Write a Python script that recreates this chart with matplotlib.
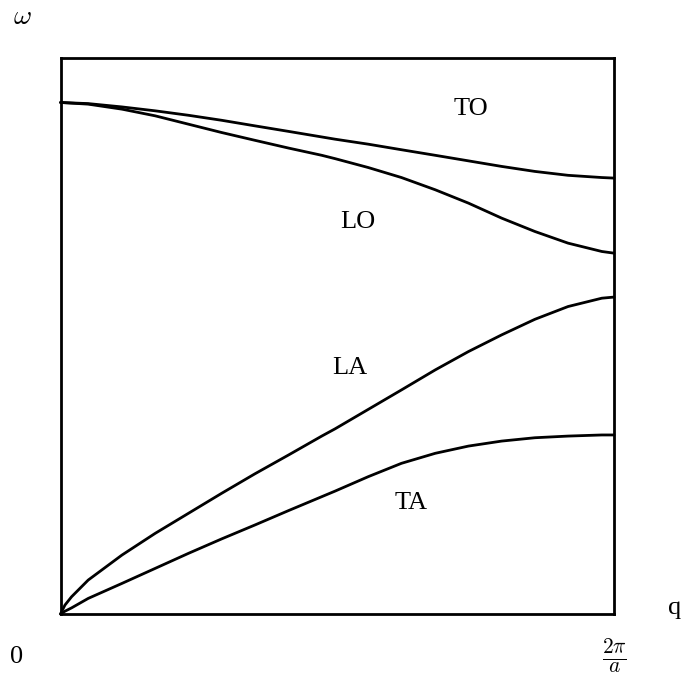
import matplotlib
matplotlib.use("Agg")
import matplotlib.pyplot as plt

plt.rcParams['mathtext.fontset'] = 'cm'
plt.rcParams['font.family'] = ['Liberation Serif', 'DejaVu Serif']

# optical branches (wave vector as fraction of 2*pi/a, frequency normalised)
q_opt = [0.0, 0.05, 0.111, 0.171, 0.231, 0.291, 0.351, 0.412, 0.472, 0.496,
         0.556, 0.616, 0.677, 0.737, 0.797, 0.857, 0.917, 0.978, 1.0]
to_vals = [0.920, 0.918, 0.912, 0.905, 0.897, 0.888, 0.878, 0.868, 0.858, 0.854,
           0.845, 0.835, 0.825, 0.815, 0.805, 0.796, 0.789, 0.785, 0.784]
lo_vals = [0.920, 0.917, 0.908, 0.896, 0.881, 0.866, 0.852, 0.838, 0.825, 0.819,
           0.803, 0.785, 0.763, 0.739, 0.712, 0.688, 0.667, 0.652, 0.649]

# acoustic branches
q_ac = [0.0, 0.008, 0.02, 0.05, 0.111, 0.171, 0.231, 0.291, 0.351, 0.412, 0.472, 0.496,
        0.556, 0.616, 0.677, 0.737, 0.797, 0.857, 0.917, 0.978, 1.0]
la_vals = [0.0, 0.016, 0.031, 0.061, 0.106, 0.145, 0.181, 0.217, 0.252, 0.286, 0.320, 0.333,
           0.368, 0.403, 0.439, 0.472, 0.502, 0.530, 0.553, 0.568, 0.570]
ta_vals = [0.0, 0.005, 0.011, 0.028, 0.055, 0.082, 0.109, 0.135, 0.160, 0.186, 0.211, 0.221,
           0.247, 0.271, 0.289, 0.302, 0.311, 0.317, 0.320, 0.322, 0.322]

branch_labels = ["TO", "LO", "LA", "TA"]
label_pos = [(0.741, 0.908), (0.537, 0.705), (0.522, 0.442), (0.633, 0.200)]

fig = plt.figure(figsize=(6.82, 6.75), dpi=100)
ax = fig.add_axes([60.5/682, 61/675, 553.5/682, 556/675])
ax.set_xlim(0, 1)
ax.set_ylim(0, 1)
ax.set_xticks([])
ax.set_yticks([])
for s in ax.spines.values():
    s.set_linewidth(2.0)

kw = dict(color='black', lw=2.0, solid_capstyle='round', solid_joinstyle='round', clip_on=False)
ax.plot(q_opt, to_vals, **kw)
ax.plot(q_opt, lo_vals, **kw)
ax.plot(q_ac, la_vals, **kw)
ax.plot(q_ac, ta_vals, **kw)

for lab, (x, y) in zip(branch_labels, label_pos):
    ax.text(x, y, lab, fontsize=19, ha='center', va='center')

fig.text(22/682, 1 - 17/675, r'$\omega$', fontsize=20, ha='center', va='center')
fig.text(675/682, 1 - 608/675, 'q', fontsize=19, ha='center', va='center')
fig.text(17/682, 1 - 657/675, '0', fontsize=19, ha='center', va='center')
fig.text(614/682, 1 - 656/675, r'$\frac{2\pi}{a}$', fontsize=22, ha='center', va='center')

fig.savefig('out.png', dpi=100)
